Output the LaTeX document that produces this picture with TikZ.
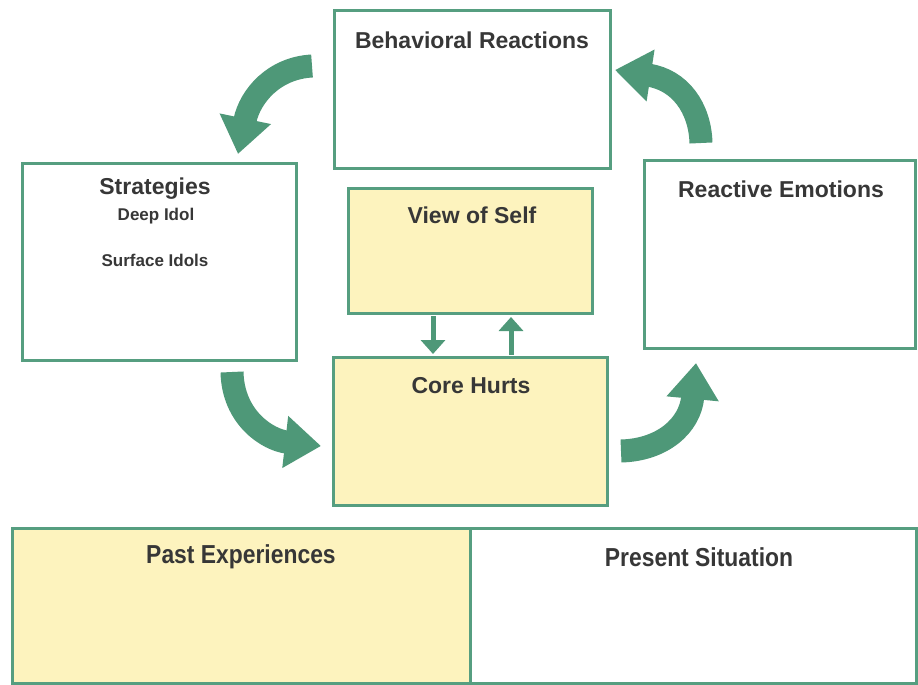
\documentclass[tikz,border=0pt]{standalone}
\usepackage{fontspec}
\setmainfont{Liberation Sans}
\newfontfamily\condfont[FakeStretch=0.88]{Liberation Sans}
\usetikzlibrary{arrows.meta}
\definecolor{framegreen}{RGB}{86,158,128}
\definecolor{arrowgreen}{RGB}{78,152,120}
\definecolor{paleyellow}{RGB}{253,243,190}
\definecolor{inkgray}{RGB}{55,55,55}
\begin{document}
\begin{tikzpicture}[x=1pt,y=-1pt,
  panel/.style={draw=framegreen,line width=3pt,fill=white,inner sep=0pt},
  warm/.style={panel,fill=paleyellow},
  title/.style={text=inkgray,font=\bfseries\fontsize{23}{27}\selectfont,anchor=center,inner sep=0pt},
  subtitle/.style={text=inkgray,font=\bfseries\fontsize{17}{20}\selectfont,anchor=center,inner sep=0pt},
  wide/.style={text=inkgray,font=\condfont\bfseries\fontsize{26}{30}\selectfont,anchor=center,inner sep=0pt},
  curlarrow/.style={draw=arrowgreen,line width=23pt,
    -{Triangle[length=36pt,width=50pt,fill=arrowgreen]}},
  tick/.style={draw=arrowgreen,line width=5pt,
    -{Triangle[length=14pt,width=24pt,fill=arrowgreen]}}]
\useasboundingbox (0,0) rectangle (918,685);
\fill[white] (0,0) rectangle (918,685);

% boxes of the cycle
\node[panel,minimum width=276pt,minimum height=157pt] (behav) at (472,89.5) {};
\node[panel,minimum width=274pt,minimum height=197pt] (strat) at (159,261.5) {};
\node[warm,minimum width=244pt,minimum height=125pt] (view) at (470,250.5) {};
\node[panel,minimum width=271pt,minimum height=188pt] (react) at (780,254) {};
\node[warm,minimum width=274pt,minimum height=148pt] (core) at (470,431) {};

% background panels
\node[warm,minimum width=458pt,minimum height=155pt] (past) at (241,606) {};
\node[panel,minimum width=446pt,minimum height=155pt] (present) at (693,606) {};

% headings
\node[title] (behavT) at (472,40) {Behavioral Reactions};
\node[title] (stratT) at (155,189) {Strategies};
\node[subtitle] (deep) at (156,216) {Deep Idol};
\node[subtitle] (surface) at (155,260) {Surface Idols};
\node[title] (viewT) at (472,215) {View of Self};
\node[title] (reactT) at (781,189) {Reactive Emotions};
\node[title] (coreT) at (471,386) {Core Hurts};
\node[wide] (pastT) at (241,557) {Past Experiences};
\node[wide] (presentT) at (699,557) {Present Situation};

% end points of the curved arrows
\coordinate (a1s) at (312,66);
\coordinate (a1e) at (238,154);
\coordinate (a2s) at (701,143);
\coordinate (a2e) at (615,70);
\coordinate (a3s) at (232,372);
\coordinate (a3e) at (321,446);
\coordinate (a4s) at (621,451);
\coordinate (a4e) at (696,363);

\path[curlarrow] (a1s) .. controls (274,68) and (250,96) .. (a1e);
\path[curlarrow] (a2s) .. controls (700,108) and (680,80) .. (a2e);
\path[curlarrow] (a3s) .. controls (233,418) and (268,440) .. (a3e);
\path[curlarrow] (a4s) .. controls (662,450) and (690,426) .. (a4e);

% links between view of self and core hurts
\coordinate (dTop) at (433,316);
\coordinate (dBot) at (433,354);
\coordinate (uBot) at (511,355);
\coordinate (uTop) at (511,317);
\path[tick] (dTop) -- (dBot);
\path[tick] (uBot) -- (uTop);
\end{tikzpicture}
\end{document}
